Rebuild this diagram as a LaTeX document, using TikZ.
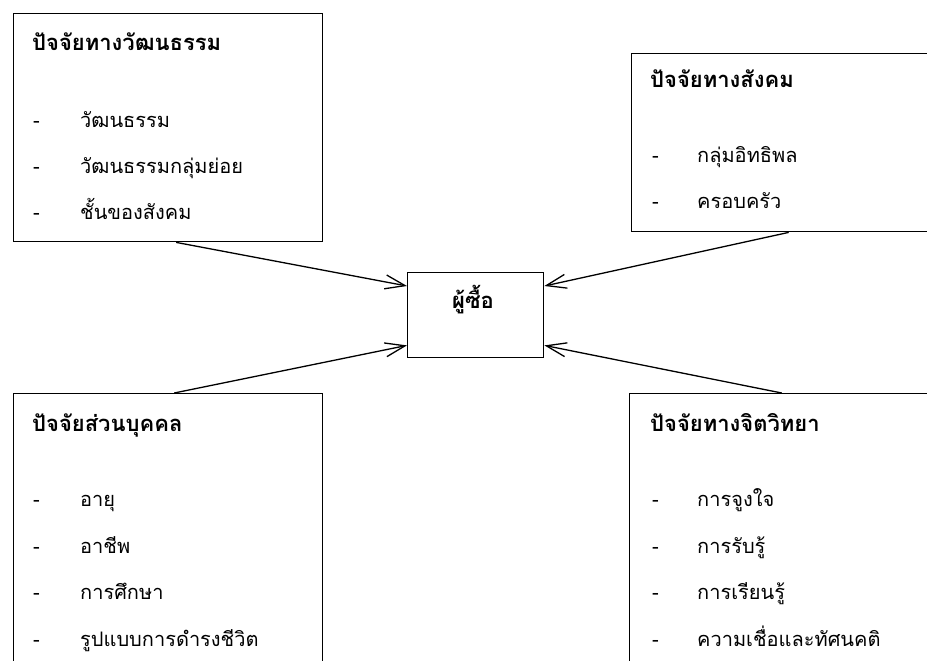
\documentclass[tikz,border=0pt]{standalone}
\usepackage{fontspec}
\newfontfamily\thaifont[Script=Thai]{Loma}
\usetikzlibrary{arrows.meta}
\tikzset{
  panel/.style={draw=black, line width=1.4pt, fill=white, rectangle, inner sep=0pt, anchor=north west},
  title/.style={anchor=base west, inner sep=0pt, font=\thaifont\fontsize{22}{26}\selectfont\bfseries},
  item/.style={anchor=base west, inner sep=0pt, font=\thaifont\fontsize{20}{24}\selectfont},
  link/.style={draw=black, line width=1.3pt, -{Straight Barb[length=20pt,width=14pt,line width=1.3pt]}}
}
\begin{document}
\begin{tikzpicture}[x=1pt,y=-1pt]
\useasboundingbox (0,0) rectangle (927,661);
\begin{scope}
\clip (0,0) rectangle (927,661);
% four factor panels
\node[panel, minimum width=309pt, minimum height=228pt] (cul) at (13,13) {};
\node[panel, minimum width=320pt, minimum height=178pt] (soc) at (631,53) {};
\node[panel, minimum width=309pt, minimum height=290pt] (per) at (13,393) {};
\node[panel, minimum width=320pt, minimum height=290pt] (psy) at (629,393) {};
% central buyer box
\node[panel, minimum width=136pt, minimum height=85pt] (buyer) at (407,272) {};
\node[title, anchor=base] (buyertxt) at (473,308) {ผู้ซื้อ};

% cultural factors
\node[title] (t1) at (32,51) {ปัจจัยทางวัฒนธรรม};
\node[item] (d11) at (33,127) {-};
\node[item] (i11) at (80,127) {วัฒนธรรม};
\node[item] (d12) at (33,173) {-};
\node[item] (i12) at (80,173) {วัฒนธรรมกลุ่มย่อย};
\node[item] (d13) at (33,219) {-};
\node[item] (i13) at (80,219) {ชั้นของสังคม};

% social factors
\node[title] (t2) at (650,88) {ปัจจัยทางสังคม};
\node[item] (d21) at (652,162) {-};
\node[item] (i21) at (697,162) {กลุ่มอิทธิพล};
\node[item] (d22) at (652,208) {-};
\node[item] (i22) at (697,208) {ครอบครัว};

% personal factors
\node[title] (t3) at (32,431) {ปัจจัยส่วนบุคคล};
\node[item] (d31) at (33,506) {-};
\node[item] (i31) at (80,506) {อายุ};
\node[item] (d32) at (33,553) {-};
\node[item] (i32) at (80,553) {อาชีพ};
\node[item] (d33) at (33,599) {-};
\node[item] (i33) at (80,599) {การศึกษา};
\node[item] (d34) at (33,646) {-};
\node[item] (i34) at (80,646) {รูปแบบการดำรงชีวิต};

% psychological factors
\node[title] (t4) at (650,431) {ปัจจัยทางจิตวิทยา};
\node[item] (d41) at (652,506) {-};
\node[item] (i41) at (697,506) {การจูงใจ};
\node[item] (d42) at (652,553) {-};
\node[item] (i42) at (697,553) {การรับรู้};
\node[item] (d43) at (652,599) {-};
\node[item] (i43) at (697,599) {การเรียนรู้};
\node[item] (d44) at (652,646) {-};
\node[item] (i44) at (697,646) {ความเชื่อและทัศนคติ};

% influences pointing at the buyer
\draw[link] ([xshift=8pt]cul.south) -- ([yshift=-14pt]buyer.north west);
\draw[link] ([xshift=-3pt]soc.south) -- ([yshift=-14pt]buyer.north east);
\draw[link] ([xshift=6pt]per.north) -- ([yshift=13pt]buyer.south west);
\draw[link] ([xshift=-8pt]psy.north) -- ([yshift=13pt]buyer.south east);
\end{scope}
\end{tikzpicture}
\end{document}
